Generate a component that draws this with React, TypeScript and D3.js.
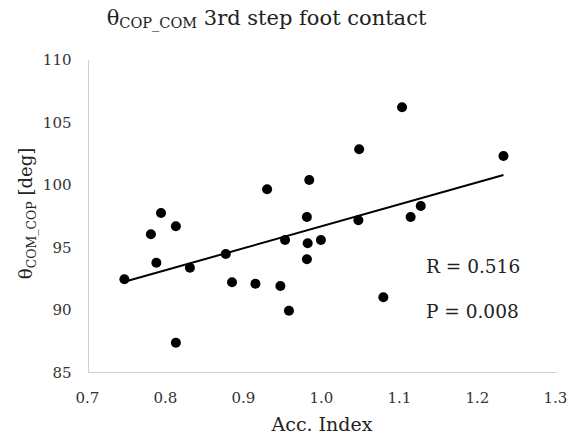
import React from "react";
import * as d3 from "d3";

const accIndex = [0.746, 0.780, 0.793, 0.812, 0.787, 0.830, 0.812, 0.876, 0.884, 0.914, 0.929, 0.946, 0.957, 0.952, 0.983, 0.980, 0.981, 0.980, 0.998, 1.047, 1.046, 1.078, 1.102, 1.113, 1.126, 1.232];
const theta = [92.46, 96.06, 97.76, 96.70, 93.78, 93.38, 87.38, 94.48, 92.22, 92.10, 99.66, 91.92, 89.94, 95.60, 100.40, 97.44, 95.34, 94.06, 95.60, 102.86, 97.18, 91.02, 106.22, 97.44, 98.32, 102.32];
const xTicks = [0.7, 0.8, 0.9, 1.0, 1.1, 1.2, 1.3];
const yTicks = [85, 90, 95, 100, 105, 110];
const statLines = ["R = 0.516", "P = 0.008"];

const W = 568, H = 436;
const FONT = "'DejaVu Serif', serif";

export default function App() {
  const x = d3.scaleLinear().domain([0.7, 1.3]).range([88.5, 556.5]);
  const y = d3.scaleLinear().domain([85, 110]).range([372.5, 60]);

  const pts = accIndex.map((v, i) => [v, theta[i]] as [number, number]);
  const mx = d3.mean(accIndex)!, my = d3.mean(theta)!;
  let sxy = 0, sxx = 0;
  pts.forEach(([a, b]) => { sxy += (a - mx) * (b - my); sxx += (a - mx) ** 2; });
  const slope = sxy / sxx, icpt = my - slope * mx;
  const [x0, x1] = d3.extent(accIndex) as [number, number];
  const line = d3.line<number>().x(d => x(d)).y(d => y(icpt + slope * d));

  return (
    <svg width={W} height={H} style={{ position: "absolute", left: 0, top: 0, background: "#fff" }} fontFamily={FONT}>
      <rect width={W} height={H} fill="#fff" />
      <text x={266.5} y={24.5} textAnchor="middle" fontSize={21} fill="#222">
        <tspan>θ</tspan>
        <tspan fontSize={14.5} dy={3}>COP_COM</tspan>
        <tspan dy={-3}> 3rd step foot contact</tspan>
      </text>
      <line x1={x(0.7)} x2={x(1.3)} y1={y(85)} y2={y(85)} stroke="#cfcfcf" strokeWidth={1} />
      <line x1={x(0.7)} x2={x(0.7)} y1={y(85)} y2={y(110)} stroke="#cfcfcf" strokeWidth={1} />
      {yTicks.map(t => (
        <text key={t} x={71.5} y={y(t)} dy="0.36em" textAnchor="end" fontSize={15} fill="#333">{t}</text>
      ))}
      {xTicks.map(t => (
        <text key={t} x={x(t) - 1} y={403} textAnchor="middle" fontSize={15} fill="#333">{t.toFixed(1)}</text>
      ))}
      <text x={322} y={431} textAnchor="middle" fontSize={19} fill="#222">Acc. Index</text>
      <text transform={`translate(32,213.5) rotate(-90)`} textAnchor="middle" fontSize={18} fill="#222">
        <tspan>θ</tspan>
        <tspan fontSize={12.5} dy={4}>COM_COP</tspan>
        <tspan dy={-4}> [deg]</tspan>
      </text>
      <path d={line([x0, x1]) || ""} stroke="#000" strokeWidth={2} fill="none" />
      {pts.map(([a, b], i) => (
        <circle key={i} cx={x(a)} cy={y(b)} r={5} fill="#000" />
      ))}
      {statLines.map((s, i) => (
        <text key={s} x={426} y={272.5 + i * 45.5} fontSize={18.5} fill="#222">{s}</text>
      ))}
    </svg>
  );
}
